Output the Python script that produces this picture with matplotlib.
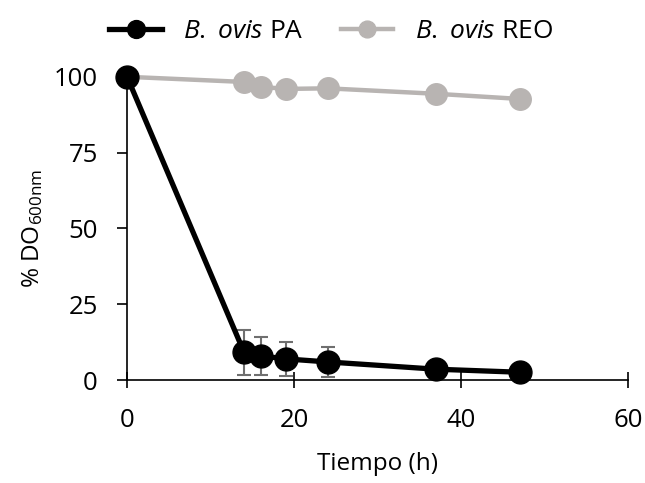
import numpy as np
import matplotlib
matplotlib.use("Agg")
import matplotlib.pyplot as plt

plt.rcParams['font.family'] = ['Open Sans', 'DejaVu Sans']
plt.rcParams['mathtext.fontset'] = 'custom'
plt.rcParams['mathtext.rm'] = 'Open Sans'
plt.rcParams['mathtext.it'] = 'Open Sans:italic'

# Time points (h)
tiempo = [0, 14, 16, 19, 24, 37, 47]
# % OD600 for each strain
pa = [100, 9.2, 8.0, 7.0, 6.0, 3.6, 2.6]
pa_err = [0, 7.4, 6.2, 5.5, 5.0, 0, 0]
reo = [100, 98.3, 96.7, 96.0, 96.2, 94.4, 92.7]

fig = plt.figure(figsize=(6.45, 4.83), dpi=100)
ax = fig.add_axes([0.197, 0.213, 0.777, 0.628])

ax.plot(tiempo, reo, color='#b8b4b2', lw=3.2, marker='o', ms=15.5,
        clip_on=False, zorder=3, label=r'$\it{B.}$ $\it{ovis}$ REO')
ax.errorbar(tiempo, pa, yerr=pa_err, fmt='none', ecolor='#6f6f6f',
            elinewidth=1.5, capsize=5, capthick=1.5, zorder=2)
ax.plot(tiempo, pa, color='black', lw=3.8, marker='o', ms=16.5,
        clip_on=False, zorder=4, label=r'$\it{B.}$ $\it{ovis}$ PA')

ax.set_xlim(0, 60)
ax.set_ylim(0, 100)
ax.set_xticks([0, 20, 40, 60])
ax.set_yticks([0, 25, 50, 75, 100])
ax.spines['top'].set_visible(False)
ax.spines['right'].set_visible(False)
ax.spines['left'].set_linewidth(1.2)
ax.spines['bottom'].set_linewidth(1.2)
ax.tick_params(axis='x', direction='inout', length=12, width=1.2, labelsize=18.5, pad=14)
ax.tick_params(axis='y', direction='out', length=7, width=1.2, labelsize=18.5, pad=14)

ax.set_xlabel('Tiempo (h)', fontsize=17.5, labelpad=14)
ax.set_ylabel(r'% DO$_{\mathrm{600nm}}$', fontsize=17.5, labelpad=6)

h, l = ax.get_legend_handles_labels()
fig.legend(h[::-1], l[::-1], loc='center', bbox_to_anchor=(0.513, 0.934), ncol=2,
           frameon=False, fontsize=19, handlelength=2.0, columnspacing=1.4,
           handletextpad=0.8, markerscale=0.78)

fig.savefig('out.png', dpi=100)
